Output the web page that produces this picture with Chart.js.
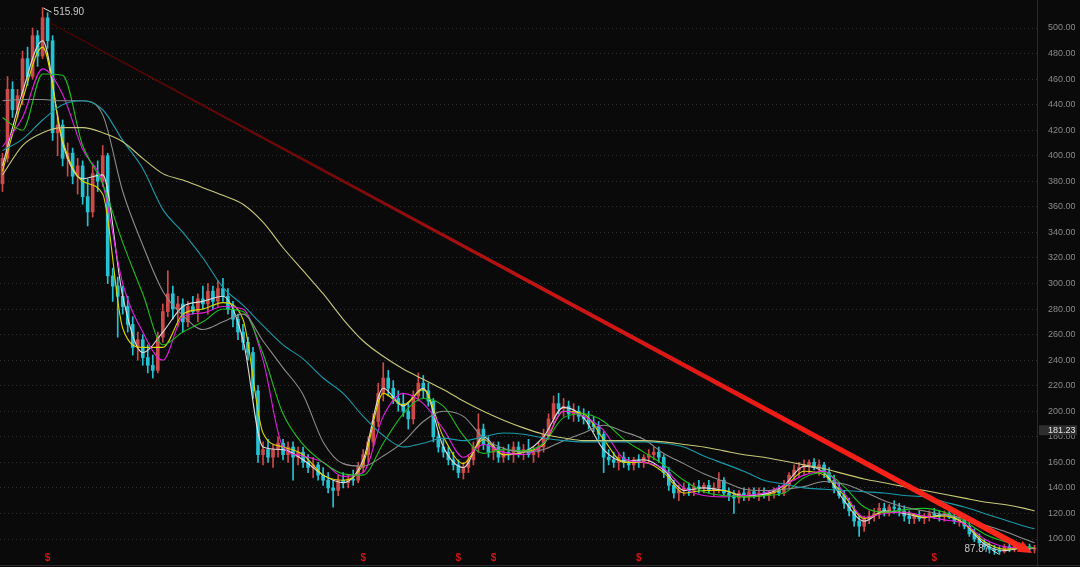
<!DOCTYPE html>
<html>
<head>
<meta charset="utf-8">
<script src="https://cdn.jsdelivr.net/npm/chart.js@4.4.1/dist/chart.umd.min.js"></script>
<style>
    html, body { margin: 0; padding: 0; background: #0a0a0a; }
    #caja { width: 1080px; height: 567px; }
</style>
</head>
<body>
<div id="caja"><canvas id="graficoVelas"></canvas></div>
<script>
// Velas: apertura, máximo, mínimo, cierre
const apertura = [
    378,398,452,436,447,476,462,494,478,508,
    490,418,424,398,402,384,392,368,356,386,
    380,400,306,298,290,282,268,250,256,242,
    236,232,258,278,292,280,284,270,282,278,
    288,284,294,286,296,290,280,272,262,254,
    246,216,166,170,164,170,175,166,172,164,
    168,160,156,158,150,146,140,138,146,144,
    147,146,156,166,176,192,214,226,218,210,
    206,200,194,212,222,216,208,180,172,168,
    162,158,152,156,162,172,186,174,168,172,
    164,168,166,172,168,170,166,168,172,182,
    194,206,202,204,198,200,196,194,190,188,
    182,164,162,160,164,160,158,162,160,164,
    166,168,164,152,142,136,138,140,138,141,
    140,142,138,140,146,136,134,132,136,134,
    137,135,136,134,136,138,136,142,150,154,
    156,158,160,156,158,152,146,140,134,128,
    122,114,110,116,118,120,124,122,125,124,
    122,118,116,118,116,118,120,119,118,120,
    117,114,116,110,104,100,97,94,92,91,
    90,94,92,95,93,94,92
];
const maximo = [
    402,462,458,452,482,485,500,498,516,512,
    494,432,428,410,406,398,396,382,392,396,
    408,402,312,305,298,290,274,262,260,252,
    244,262,284,310,298,290,288,286,290,292,
    298,300,298,302,304,296,286,276,268,258,
    250,220,176,178,174,180,178,176,176,172,
    172,166,164,160,156,152,146,150,152,150,
    154,160,170,180,198,222,238,232,224,216,
    214,206,216,230,228,222,210,184,178,172,
    168,162,160,166,176,198,190,180,176,176,
    172,174,176,176,174,178,172,176,186,198,
    212,214,210,208,206,204,202,200,196,192,
    184,170,168,166,168,164,164,166,166,170,
    172,172,166,156,146,142,144,144,144,146,
    144,146,144,152,148,140,138,138,140,140,
    140,140,140,138,140,142,146,152,158,160,
    162,162,163,162,160,156,150,144,138,132,
    126,118,118,122,124,128,128,127,130,128,
    126,122,120,122,120,122,124,122,122,123,
    120,118,118,114,108,104,100,97,95,94,
    96,97,96,97,96,96,95
];
const minimo = [
    372,395,430,430,440,455,460,470,476,484,
    412,400,392,384,378,370,362,345,352,372,
    376,300,286,258,276,262,244,240,236,230,
    226,230,254,274,272,266,262,266,276,270,
    280,276,280,282,286,276,266,256,248,240,
    210,160,158,160,156,164,162,160,146,158,
    156,152,148,146,142,136,125,134,140,140,
    142,144,152,160,172,188,208,212,206,200,
    196,186,190,208,210,204,176,168,164,158,
    154,148,147,152,158,168,170,164,162,160,
    160,162,160,164,162,164,160,164,168,178,
    190,198,196,194,192,192,190,186,184,178,
    152,158,156,154,156,154,154,156,156,160,
    162,160,148,138,132,130,134,134,134,136,
    136,136,134,136,134,130,120,128,130,130,
    132,130,132,130,132,134,134,140,146,148,
    150,152,154,150,148,144,136,132,124,118,
    110,102,106,112,114,116,118,118,120,118,
    114,112,112,114,112,114,116,114,114,116,
    112,110,108,102,98,95,92,89,88,87.87,
    89,90,90,91,90,90,89
];
const cierre = [
    398,452,436,447,476,462,494,478,508,490,
    418,424,398,402,384,392,368,356,386,380,
    400,306,298,290,282,268,250,256,242,236,
    232,258,278,292,280,284,270,282,278,288,
    284,294,286,296,290,280,272,262,254,246,
    216,166,170,164,170,175,166,172,164,168,
    160,156,158,150,146,140,138,146,144,147,
    146,156,166,176,192,214,226,218,210,206,
    200,194,212,222,216,208,180,172,168,162,
    158,152,156,162,172,186,174,168,172,164,
    168,166,172,168,170,166,168,172,182,194,
    206,202,204,198,200,196,194,190,188,182,
    164,162,160,164,160,158,162,160,164,166,
    168,164,152,142,136,138,140,138,141,140,
    142,138,140,146,136,134,132,136,134,137,
    135,136,134,136,138,136,142,150,154,156,
    158,160,156,158,152,146,140,134,128,122,
    114,110,116,118,120,124,122,125,124,122,
    118,116,118,116,118,120,119,118,120,117,
    114,116,110,104,100,97,94,92,91,90,
    94,92,95,93,94,92,93
];

// Medias móviles, leídas cada 4 velas
const idxMedias = [
    0,4,8,12,16,20,24,28,32,36,40,44,48,52,56,60,64,68,72,76,
    80,84,88,92,96,100,104,108,112,116,120,124,128,132,136,140,
    144,148,152,156,160,164,168,172,176,180,184,188,192,196,200,204,206
];
const ma5 = [
    392,450,490,410,382,385,290,246,262,282, 286,290,256,172,170,162,150,144,162,218,
    204,218,172,156,180,166,168,180,203,195, 170,161,162,154,138,140,138,134,135,142,
    157,152,130,114,122,120,117,119,112,96, 91,93,93
];
const ma10 = [
    388,444,485,412,380,370,265,250,250,276, 280,285,272,183,172,166,150,146,159,214,
    205,217,180,159,178,166,168,174,200,198, 178,160,160,152,136,138,138,133,134,140,
    153,150,134,116,121,121,117,118,112,98, 92,93,93
];
const ma20 = [
    407,430,468,448,405,378,300,262,240,274, 277,282,280,240,172,165,160,149,152,196,
    214,206,186,164,174,168,166,175,200,196, 185,163,160,155,140,134,133,134,136,142,
    150,153,136,117,120,121,118,115,112,100, 94,93,93
];
const ma30 = [
    430,420,464,463,408,378,332,292,252,262, 270,280,278,245,198,174,160,151,150,175,
    198,210,204,181,167,170,169,175,195,198, 192,178,168,158,146,137,134,133,134,136,
    148,152,141,125,121,123,124,121,114,104, 98,94,93
];
const ma60 = [
    443,444,444,443,443,432,372,330,294,275, 264,270,276,255,234,213,176,159,157,165,
    176,192,200,196,179,171,168,170,177,183, 189,184,178,167,159,151,145,139,138,139,
    141,145,143,137,130,125,122,119,116,111, 106,100,97
];
const ma120 = [
    404,413,428,440,443,436,412,390,358,340, 320,297,283,267,252,241,226,214,196,181,
    172,175,179,177,180,183,182,179,177,176, 176,176,176,175,172,165,159,153,146,143,
    140,139,138,137,136,134,133,129,125,120, 115,110,108
];
const ma250 = [
    385,408,418,422,422,418,411,398,386,381, 375,369,362,348,328,310,292,272,255,243,
    233,225,217,208,200,193,187,182,179,177, 177,177,177,176,174,172,169,166,164,161,
    158,155,151,147,144,141,138,135,132,129, 127,124,122
];

const ticksY = [100,120,140,160,180,200,220,240,260,280,300,320,340,360,380,400,420,440,460,480,500];

// Línea de tendencia (índice de vela, precio)
const tendenciaIdx = [9.5, 205.5];
const tendenciaVal = [504, 89];

// Marcas y etiquetas
const marcasIdx = [9, 72, 91, 98, 127, 186];
const maximoIdx = 8, maximoVal = 515.90;
const minimoIdx = 199, minimoVal = 87.87;
const precioEtiqueta = 181.23;

const colorSube = '#cc4a4a';
const colorBaja = '#26c2d2';
const coloresVela = cierre.map((c, i) => c >= apertura[i] ? colorSube : colorBaja);

const mechas = cierre.map((c, i) => ({ x: i, y: [minimo[i], maximo[i]] }));
const cuerpos = cierre.map((c, i) => ({ x: i, y: [apertura[i], c] }));

function serieMedia(valores) {
    return idxMedias.map((x, k) => ({ x: x, y: valores[k] }));
}

function lineaMedia(valores, color) {
    return {
        type: 'line',
        data: serieMedia(valores),
        borderColor: color,
        borderWidth: 1.1,
        pointRadius: 0,
        cubicInterpolationMode: 'monotone',
        order: 1
    };
}

const pluginMarcas = {
    id: 'marcas',
    afterDraw(chart) {
        const ctx = chart.ctx;
        const xs = chart.scales.x, ys = chart.scales.y;
        const area = chart.chartArea;
        ctx.save();

        // borde inferior
        ctx.strokeStyle = '#2c2c2c';
        ctx.lineWidth = 1;
        ctx.beginPath();
        ctx.moveTo(0, area.bottom + 0.5);
        ctx.lineTo(chart.width, area.bottom + 0.5);
        ctx.stroke();

        // tendencia con flecha
        const x0 = xs.getPixelForValue(tendenciaIdx[0]), y0 = ys.getPixelForValue(tendenciaVal[0]);
        const x1 = xs.getPixelForValue(tendenciaIdx[1]), y1 = ys.getPixelForValue(tendenciaVal[1]);
        const ang = Math.atan2(y1 - y0, x1 - x0);
        const nx = -Math.sin(ang), ny = Math.cos(ang);
        const largoPunta = 14, anchoPunta = 6;
        const bx = x1 - Math.cos(ang) * largoPunta, by = y1 - Math.sin(ang) * largoPunta;
        const grad = ctx.createLinearGradient(x0, y0, x1, y1);
        grad.addColorStop(0, '#3c0404');
        grad.addColorStop(0.3, '#7a0a0a');
        grad.addColorStop(0.5, '#c41414');
        grad.addColorStop(0.75, '#f01c16');
        grad.addColorStop(1, '#ff2a1c');
        ctx.fillStyle = grad;
        const w0 = 0.6, w1 = 3;
        ctx.beginPath();
        ctx.moveTo(x0 + nx * w0, y0 + ny * w0);
        ctx.lineTo(bx + nx * w1, by + ny * w1);
        ctx.lineTo(bx + nx * anchoPunta, by + ny * anchoPunta);
        ctx.lineTo(x1, y1);
        ctx.lineTo(bx - nx * anchoPunta, by - ny * anchoPunta);
        ctx.lineTo(bx - nx * w1, by - ny * w1);
        ctx.lineTo(x0 - nx * w0, y0 - ny * w0);
        ctx.closePath();
        ctx.fill();

        ctx.font = '10px "Liberation Sans", Arial, sans-serif';
        ctx.textBaseline = 'middle';

        // máximo
        const px = xs.getPixelForValue(maximoIdx), py = ys.getPixelForValue(maximoVal);
        ctx.strokeStyle = '#e8e8e8';
        ctx.beginPath();
        ctx.moveTo(px + 1, py + 0.5);
        ctx.lineTo(px + 9, py + 4.5);
        ctx.stroke();
        ctx.fillStyle = '#c8c8c8';
        ctx.textAlign = 'left';
        ctx.fillText(maximoVal.toFixed(2), px + 11, py + 5);

        // mínimo
        const qx = xs.getPixelForValue(minimoIdx), qy = ys.getPixelForValue(minimoVal);
        ctx.strokeStyle = '#e8e8e8';
        ctx.beginPath();
        ctx.moveTo(qx - 1, qy - 0.5);
        ctx.lineTo(qx - 8, qy - 5);
        ctx.stroke();
        ctx.fillStyle = '#c8c8c8';
        ctx.textAlign = 'right';
        ctx.fillText(minimoVal.toFixed(2), qx - 10, qy - 5);

        // marcas $
        ctx.fillStyle = '#d01414';
        ctx.font = 'bold 10px "Liberation Sans", Arial, sans-serif';
        ctx.textAlign = 'center';
        marcasIdx.forEach(i => {
            ctx.fillText('$', xs.getPixelForValue(i), area.bottom - 7);
        });

        // etiqueta de precio
        const ey = ys.getPixelForValue(precioEtiqueta);
        ctx.fillStyle = '#2e2e2e';
        ctx.fillRect(area.right + 2, ey - 10, 38, 10);
        ctx.fillStyle = '#e4e4e4';
        ctx.font = '9px "Liberation Sans", Arial, sans-serif';
        ctx.textAlign = 'left';
        ctx.fillText(precioEtiqueta.toFixed(2), area.right + 11, ey - 5);
        ctx.restore();
    }
};

new Chart(document.getElementById('graficoVelas').getContext('2d'), {
    type: 'bar',
    data: {
        datasets: [
            lineaMedia(ma250, '#c8c878'),
            lineaMedia(ma120, '#1a9aaa'),
            lineaMedia(ma60, '#8c8c8c'),
            lineaMedia(ma30, '#1fbf1f'),
            lineaMedia(ma20, '#e020e0'),
            lineaMedia(ma10, '#d8d800'),
            lineaMedia(ma5, '#dcdcdc'),
            {
                data: mechas,
                backgroundColor: coloresVela,
                barThickness: 1,
                grouped: false,
                order: 10
            },
            {
                data: cuerpos,
                backgroundColor: coloresVela,
                barThickness: 3,
                minBarLength: 1,
                grouped: false,
                order: 9
            }
        ]
    },
    options: {
        responsive: true,
        maintainAspectRatio: false,
        animation: false,
        events: [],
        layout: { padding: { left: 0, right: 5, top: 0, bottom: 2 } },
        plugins: {
            legend: { display: false },
            tooltip: { enabled: false }
        },
        scales: {
            x: {
                type: 'linear',
                min: -0.5,
                max: cierre.length - 0.5,
                offset: false,
                display: false
            },
            y: {
                position: 'right',
                min: 79.65,
                max: 521.92,
                afterBuildTicks: axis => { axis.ticks = ticksY.map(v => ({ value: v })); },
                afterFit: axis => {
                    axis.width = 38;
                    axis.paddingTop = 0;
                    axis.paddingBottom = 0;
                },
                ticks: {
                    color: '#8a8a8a',
                    padding: 11,
                    font: { family: '"Liberation Sans", Arial, sans-serif', size: 9 },
                    callback: v => Number(v).toFixed(2)
                },
                grid: { color: '#333333', drawTicks: false },
                border: { display: true, color: '#2a2a2a', dash: [1, 3] }
            }
        }
    },
    plugins: [pluginMarcas]
});
</script>
</body>
</html>
